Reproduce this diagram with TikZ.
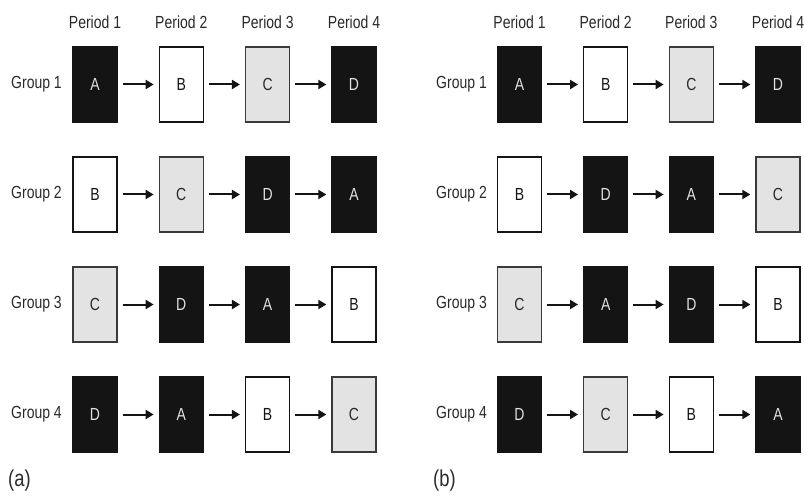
\documentclass[tikz,border=0pt]{standalone}
\usepackage{fontspec}
\setmainfont{Liberation Sans}[FakeStretch=0.8]
\usetikzlibrary{arrows.meta}

\definecolor{ink}{HTML}{141414}
\definecolor{shade}{HTML}{E3E3E3}
\definecolor{shadeedge}{HTML}{3A3A3A}
\definecolor{labelink}{HTML}{2A2A2A}

\tikzset{
  cell/.style={minimum width=44bp, minimum height=75bp, inner sep=0pt,
    line width=1.3bp, font=\fontsize{17.5bp}{20bp}\selectfont},
  darkcell/.style={cell, fill=ink, draw=ink, text=white!88!black},
  whitecell/.style={cell, fill=white, draw=ink, text=ink},
  greycell/.style={cell, fill=shade, draw=shadeedge, text=labelink},
  flow/.style={line width=2bp, draw=ink, -{Triangle[length=8bp,width=9bp]},
    shorten <=5bp, shorten >=5bp},
  caption/.style={font=\fontsize{17.5bp}{20bp}\selectfont, text=labelink, inner sep=0pt},
  panelmark/.style={font=\fontsize{23bp}{26bp}\selectfont, text=labelink, inner sep=0pt},
}

\begin{document}
\begin{tikzpicture}[x=1bp, y=-1bp]
  \useasboundingbox (0,0) rectangle (804,497);

  % ---------- panel (a) ----------
  \node[caption] (pa1) at (95,22.5) {Period 1};
  \node[caption] (pa2) at (181.3,22.5) {Period 2};
  \node[caption] (pa3) at (267.6,22.5) {Period 3};
  \node[caption] (pa4) at (354,22.5) {Period 4};

  \node[caption, anchor=east] (ga1) at (62,84.5) {Group 1};
  \node[caption, anchor=east] (ga2) at (62,194.5) {Group 2};
  \node[caption, anchor=east] (ga3) at (62,304.5) {Group 3};
  \node[caption, anchor=east] (ga4) at (62,414.5) {Group 4};

  \node[darkcell]  (L11) at (95,84.5) {A};
  \node[whitecell] (L12) at (181.3,84.5) {B};
  \node[greycell]  (L13) at (267.6,84.5) {C};
  \node[darkcell]  (L14) at (354,84.5) {D};

  \node[whitecell] (L21) at (95,194.5) {B};
  \node[greycell]  (L22) at (181.3,194.5) {C};
  \node[darkcell]  (L23) at (267.6,194.5) {D};
  \node[darkcell]  (L24) at (354,194.5) {A};

  \node[greycell]  (L31) at (95,304.5) {C};
  \node[darkcell]  (L32) at (181.3,304.5) {D};
  \node[darkcell]  (L33) at (267.6,304.5) {A};
  \node[whitecell] (L34) at (354,304.5) {B};

  \node[darkcell]  (L41) at (95,414.5) {D};
  \node[darkcell]  (L42) at (181.3,414.5) {A};
  \node[whitecell] (L43) at (267.6,414.5) {B};
  \node[greycell]  (L44) at (354,414.5) {C};

  \node[panelmark, anchor=west] (capa) at (8,481) {(a)};

  % ---------- panel (b) ----------
  \node[caption] (pb1) at (519.5,22.5) {Period 1};
  \node[caption] (pb2) at (605.7,22.5) {Period 2};
  \node[caption] (pb3) at (691.3,22.5) {Period 3};
  \node[caption] (pb4) at (778,22.5) {Period 4};

  \node[caption, anchor=east] (gb1) at (487,84.5) {Group 1};
  \node[caption, anchor=east] (gb2) at (487,194.5) {Group 2};
  \node[caption, anchor=east] (gb3) at (487,304.5) {Group 3};
  \node[caption, anchor=east] (gb4) at (487,414.5) {Group 4};

  \node[darkcell]  (R11) at (519.5,84.5) {A};
  \node[whitecell] (R12) at (605.7,84.5) {B};
  \node[greycell]  (R13) at (691.3,84.5) {C};
  \node[darkcell]  (R14) at (778,84.5) {D};

  \node[whitecell] (R21) at (519.5,194.5) {B};
  \node[darkcell]  (R22) at (605.7,194.5) {D};
  \node[darkcell]  (R23) at (691.3,194.5) {A};
  \node[greycell]  (R24) at (778,194.5) {C};

  \node[greycell]  (R31) at (519.5,304.5) {C};
  \node[darkcell]  (R32) at (605.7,304.5) {A};
  \node[darkcell]  (R33) at (691.3,304.5) {D};
  \node[whitecell] (R34) at (778,304.5) {B};

  \node[darkcell]  (R41) at (519.5,414.5) {D};
  \node[greycell]  (R42) at (605.7,414.5) {C};
  \node[whitecell] (R43) at (691.3,414.5) {B};
  \node[darkcell]  (R44) at (778,414.5) {A};

  \node[panelmark, anchor=west] (capb) at (433,481) {(b)};

  % ---------- sequence arrows ----------
  \foreach \p in {L,R}{
    \foreach \r in {1,2,3,4}{
      \draw[flow] (\p\r1) -- (\p\r2);
      \draw[flow] (\p\r2) -- (\p\r3);
      \draw[flow] (\p\r3) -- (\p\r4);
    }
  }
\end{tikzpicture}
\end{document}
